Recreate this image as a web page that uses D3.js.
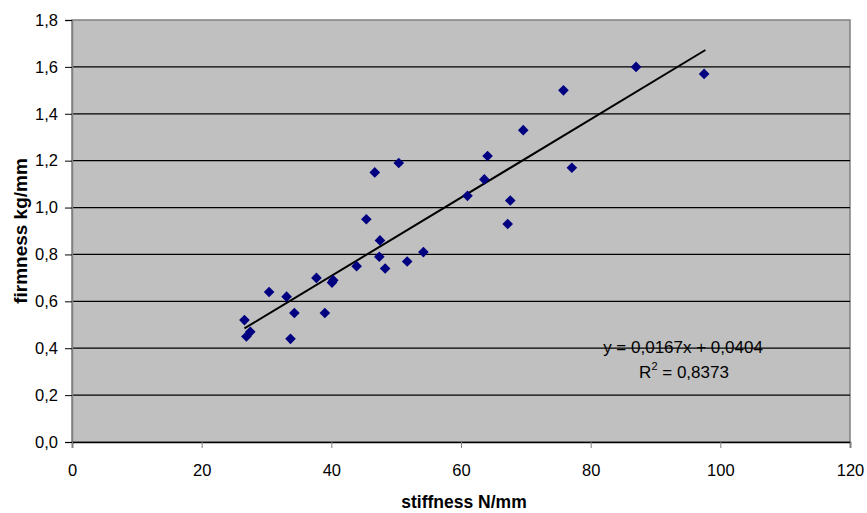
<!DOCTYPE html>
<html>
<head>
<meta charset="utf-8">
<script src="https://cdn.jsdelivr.net/npm/d3@7"></script>
<style>
  body { margin: 0; background: #fff; }
  text { font-family: "Liberation Sans", Arial, sans-serif; }
</style>
</head>
<body>
<script>
const width = 867;
const height = 513;

// stiffness N/mm
const stiffness = [26.6, 26.9, 27.5, 30.4, 33.1, 34.3, 33.7, 37.7, 39.0, 40.1,
  40.3, 43.9, 45.4, 46.7, 47.4, 47.5, 48.3, 50.4, 51.7, 54.2,
  61.0, 63.6, 64.1, 67.2, 67.6, 69.6, 75.8, 77.1, 87.0, 97.5];
// firmness kg/mm
const firmness = [0.52, 0.45, 0.47, 0.64, 0.62, 0.55, 0.44, 0.70, 0.55, 0.68,
  0.69, 0.75, 0.95, 1.15, 0.79, 0.86, 0.74, 1.19, 0.77, 0.81,
  1.05, 1.12, 1.22, 0.93, 1.03, 1.33, 1.50, 1.17, 1.60, 1.57];

const slope = 0.0167;
const intercept = 0.0404;
const eqLabel = "y = 0,0167x + 0,0404";
const r2Label = "0,8373";

const xTicks = [0, 20, 40, 60, 80, 100, 120];
const yTicks = [0, 0.2, 0.4, 0.6, 0.8, 1.0, 1.2, 1.4, 1.6, 1.8];

const data = stiffness.map((s, i) => ({x: s, y: firmness[i]}));

const svg = d3.select("body").append("svg")
  .attr("width", width)
  .attr("height", height);

const x = d3.scaleLinear().domain([0, 120]).range([72, 850]);
const y = d3.scaleLinear().domain([0, 1.8]).range([442, 20]);

const fmt = d => d3.format(".1f")(d).replace(".", ",");

// plot area
svg.append("rect")
  .attr("x", x(0)).attr("y", y(1.8))
  .attr("width", x(120) - x(0)).attr("height", y(0) - y(1.8))
  .attr("fill", "#c0c0c0")
  .attr("stroke", "#808080")
  .attr("stroke-width", 1.5);

// gridlines
svg.append("g")
  .selectAll("line")
  .data(yTicks.filter(d => d > 0 && d < 1.8))
  .enter().append("line")
  .attr("x1", x(0)).attr("x2", x(120))
  .attr("y1", d => y(d)).attr("y2", d => y(d))
  .attr("stroke", "#000")
  .attr("stroke-width", 1.2);

// axes
const yAxis = svg.append("g")
  .attr("transform", `translate(${x(0)},0)`)
  .call(d3.axisLeft(y).tickValues(yTicks).tickFormat(fmt).tickSize(7).tickPadding(7));
yAxis.select(".domain").attr("stroke", "#808080").attr("stroke-width", 1.5);
yAxis.selectAll(".tick line").attr("stroke", "#000");
yAxis.selectAll("text").style("font-size", "16.5px").attr("fill", "#000");

const xAxis = svg.append("g")
  .attr("transform", `translate(0,${y(0)})`)
  .call(d3.axisBottom(x).tickValues(xTicks).tickSize(6).tickPadding(16));
xAxis.select(".domain").attr("stroke", "#000").attr("stroke-width", 1.5);
xAxis.selectAll(".tick line").attr("stroke", "#808080");
xAxis.selectAll("text").style("font-size", "16.5px").attr("fill", "#000");

// trendline
const xMin = d3.min(stiffness), xMax = d3.max(stiffness);
svg.append("line")
  .attr("x1", x(xMin)).attr("y1", y(slope * xMin + intercept))
  .attr("x2", x(xMax + 0.2)).attr("y2", y(slope * (xMax + 0.2) + intercept))
  .attr("stroke", "#000")
  .attr("stroke-width", 2);

// points
svg.append("g")
  .selectAll("path")
  .data(data)
  .enter().append("path")
  .attr("transform", d => `translate(${x(d.x)},${y(d.y)})`)
  .attr("d", d3.symbol().type(d3.symbolDiamond2).size(72))
  .attr("fill", "#000080");

// equation
svg.append("text")
  .attr("x", 683).attr("y", 353)
  .attr("text-anchor", "middle")
  .style("font-size", "17px")
  .text(eqLabel);

const r2 = svg.append("text")
  .attr("x", 684).attr("y", 378)
  .attr("text-anchor", "middle")
  .style("font-size", "17px");
r2.append("tspan").text("R");
r2.append("tspan").attr("dy", -8).style("font-size", "11px").text("2");
r2.append("tspan").attr("dy", 8).text(" = " + r2Label);

// axis titles
svg.append("text")
  .attr("x", 464).attr("y", 508)
  .attr("text-anchor", "middle")
  .style("font-size", "17.5px")
  .style("font-weight", "bold")
  .text("stiffness N/mm");

svg.append("text")
  .attr("transform", "translate(27,231) rotate(-90)")
  .attr("text-anchor", "middle")
  .style("font-size", "19px")
  .style("font-weight", "bold")
  .text("firmness kg/mm");
</script>
</body>
</html>
